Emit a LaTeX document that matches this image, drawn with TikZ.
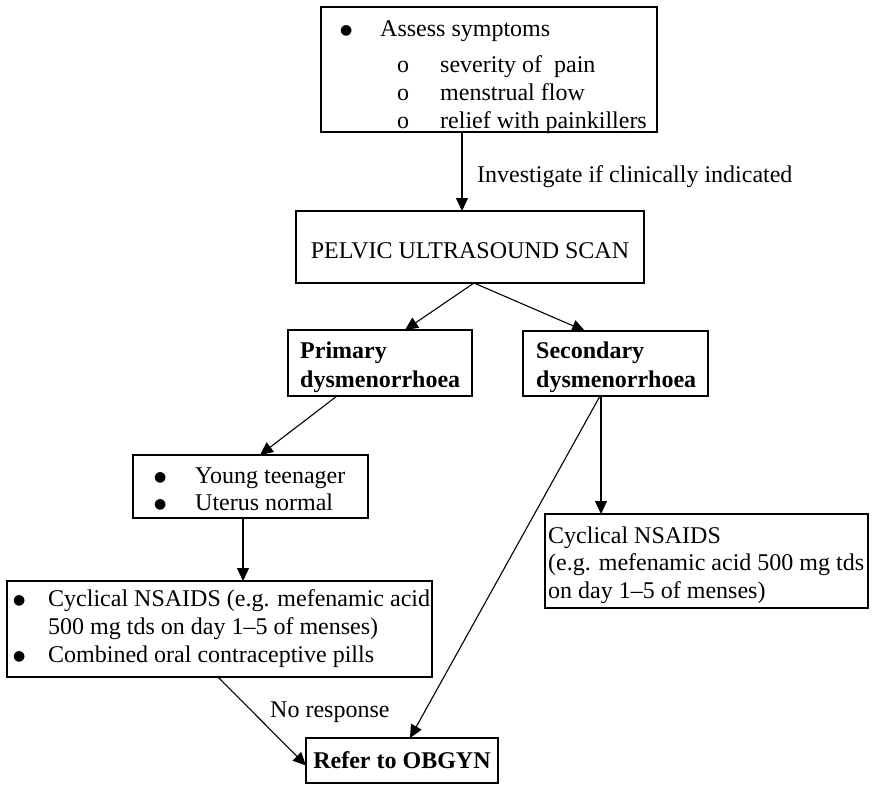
\documentclass[tikz,border=0pt]{standalone}
\usepackage{fontspec}
\setmainfont{Liberation Serif}
\newfontfamily\dejavu{DejaVu Sans}
\newcommand\bulmark{\raisebox{2pt}{\dejavu\fontsize{14}{14}\selectfont ●}}
\usetikzlibrary{arrows.meta,calc}
\begin{document}
\begin{tikzpicture}[x=1pt,y=-1pt,
  box/.style={draw, line width=1.2pt, rectangle, anchor=north west, inner sep=0pt, outer sep=0pt},
  txt/.style={anchor=base west, inner sep=0pt, align=left, font=\fontsize{24}{28}\selectfont},
  arr/.style={draw, line width=1.1pt, -{Triangle[length=13pt,width=12pt]}},
]
\useasboundingbox (0,0) rectangle (872,784);

% boxes
\node[box, minimum width=336pt, minimum height=125pt] (assess) at (321,7) {};
\node[box, minimum width=348pt, minimum height=72pt] (pelvic) at (296,211) {};
\node[box, minimum width=184pt, minimum height=66pt] (primary) at (288,330) {};
\node[box, minimum width=185pt, minimum height=65pt] (secondary) at (523,331) {};
\node[box, minimum width=235pt, minimum height=63pt] (young) at (133,455) {};
\node[box, minimum width=425pt, minimum height=96pt] (bigleft) at (7,581) {};
\node[box, minimum width=323pt, minimum height=94pt] (rightbox) at (545,514) {};
\node[box, minimum width=192pt, minimum height=45pt] (refer) at (306,738) {};

% texts (anchored at the baseline of the last line)
\node[txt] (assesstxt) at (340,128) {\makebox[40pt][l]{\bulmark}Assess symptoms\\[8pt]
\hspace*{57pt}\makebox[43pt][l]{o}severity of\ \ pain\\
\hspace*{57pt}\makebox[43pt][l]{o}menstrual flow\\
\hspace*{57pt}\makebox[43pt][l]{o}relief with painkillers};
\node[txt, anchor=base] (pelvictxt) at (470,258) {PELVIC ULTRASOUND SCAN};
\node[txt, font=\fontsize{24}{29}\selectfont\bfseries] (primarytxt) at (300,387) {Primary\\dysmenorrhoea};
\node[txt, font=\fontsize{24}{29}\selectfont\bfseries] (secondarytxt) at (536,387) {Secondary\\dysmenorrhoea};
\node[txt, font=\fontsize{24}{27}\selectfont] (youngtxt) at (154,510) {\makebox[41pt][l]{\bulmark}Young teenager\\
\makebox[41pt][l]{\bulmark}Uterus normal};
\node[txt] (biglefttxt) at (13,662) {\makebox[35pt][l]{\bulmark}Cyclical NSAIDS (e.g. mefenamic acid\\
\hspace*{35pt}500 mg tds on day 1--5 of menses)\\
\makebox[35pt][l]{\bulmark}Combined oral contraceptive pills};
\node[txt, font=\fontsize{24}{27.5}\selectfont] (righttxt) at (548,598) {Cyclical NSAIDS\\(e.g. mefenamic acid 500 mg tds\\on day 1--5 of menses)};
\node[txt, anchor=base, font=\fontsize{24}{28}\selectfont\bfseries] (refertxt) at (402,768) {Refer to OBGYN};

% labels
\node[txt] (investigate) at (477,182) {Investigate if clinically indicated};
\node[txt] (noresponse) at (270,717) {No response};

% connectors
\draw[arr] (assess.south -| 462,0) -- (pelvic.north -| 462,0);
\draw[arr] ($(pelvic.south)+(4,0)$) -- (primary.north -| 405,0);
\draw[arr] ($(pelvic.south)+(4,0)$) -- (secondary.north -| 585,0);
\draw[arr] (primary.south -| 337,0) -- (young.north -| 260,0);
\draw[arr] (young.south -| 243,0) -- (bigleft.north -| 243,0);
\draw[arr] (secondary.south -| 601,0) -- (rightbox.north -| 601,0);
\draw[arr] (secondary.south -| 600,0) -- (refer.north -| 410,0);
\draw[arr] (bigleft.south -| 218,0) -- ($(refer.west)+(0,5)$);
\end{tikzpicture}
\end{document}
